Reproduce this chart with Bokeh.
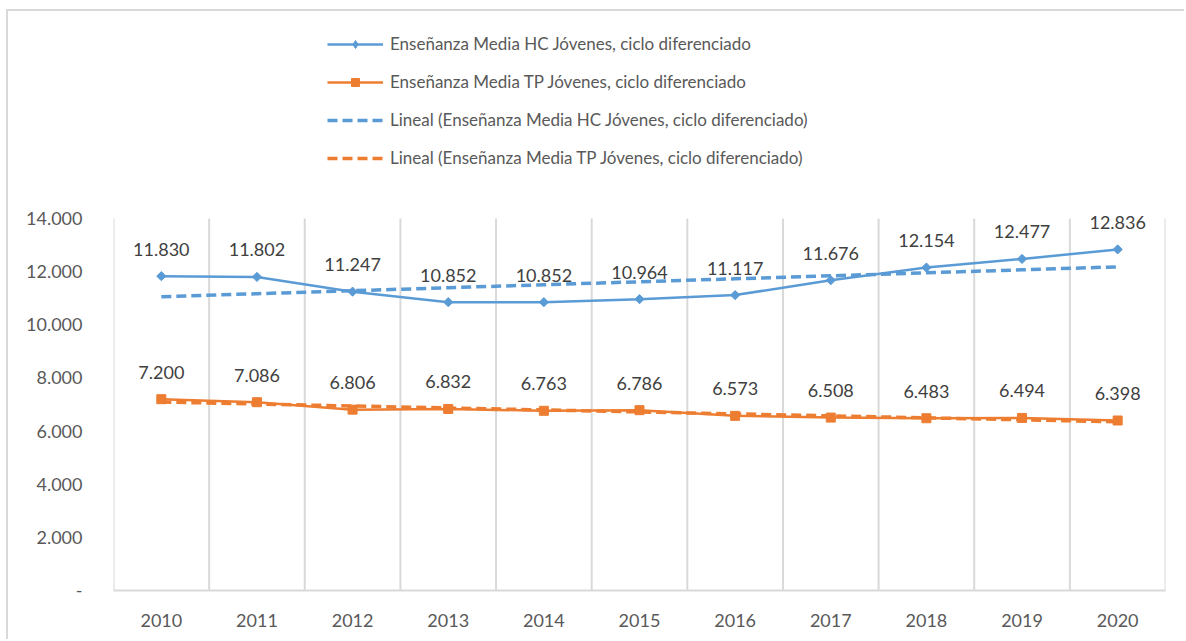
import numpy as np
from bokeh.plotting import figure
from bokeh.models import Legend, LegendItem, FixedTicker, Range1d
from bokeh.core.properties import value
from bokeh.embed import file_html
from bokeh.resources import INLINE

years = [2010, 2011, 2012, 2013, 2014, 2015, 2016, 2017, 2018, 2019, 2020]
hc = [11830, 11802, 11247, 10852, 10852, 10964, 11117, 11676, 12154, 12477, 12836]
tp = [7200, 7086, 6806, 6832, 6763, 6786, 6573, 6508, 6483, 6494, 6398]
y_ticks = [0, 2000, 4000, 6000, 8000, 10000, 12000, 14000]
name_hc = "Enseñanza Media HC Jóvenes, ciclo diferenciado"
name_tp = "Enseñanza Media TP Jóvenes, ciclo diferenciado"
name_hc_trend = "Lineal (Enseñanza Media HC Jóvenes, ciclo diferenciado)"
name_tp_trend = "Lineal (Enseñanza Media TP Jóvenes, ciclo diferenciado)"

BLUE = "#5b9bd5"
ORANGE = "#ed7d31"
GRID = "#d9d9d9"
FONT = "Lato"

def fmt(v):
    if v == 0:
        return "-"
    return f"{v:,}".replace(",", ".")

# linear trends (least squares, like Excel's "Lineal")
xi = np.arange(len(years))
hc_fit = np.polyval(np.polyfit(xi, hc, 1), xi)
tp_fit = np.polyval(np.polyfit(xi, tp, 1), xi)

frame_h = 572
y_end = 14000 * frame_h / 372.0

p = figure(width=1178, height=630, output_backend="svg", toolbar_location=None,
           x_range=Range1d(years[0] - 0.5, years[-1] + 0.5),
           y_range=Range1d(0, y_end),
           styles={"border-top": "2px solid #d9d9d9", "border-left": "2px solid #d9d9d9",
                   "margin-left": "6px", "margin-top": "9px"})
p.min_border = 0
p.min_border_left = 105
p.min_border_right = 21
p.min_border_top = 7
p.min_border_bottom = 51
p.outline_line_color = None
p.background_fill_color = "white"
p.border_fill_color = "white"
p.xgrid.visible = False
p.ygrid.visible = False

# axes
p.yaxis.ticker = FixedTicker(ticks=y_ticks)
p.yaxis.major_label_overrides = {t: fmt(t) for t in y_ticks}
p.yaxis.axis_line_color = None
p.yaxis.major_tick_line_color = None
p.yaxis.minor_tick_line_color = None
p.yaxis.major_label_standoff = 25
p.yaxis.major_label_text_font = FONT
p.yaxis.major_label_text_font_size = "18px"
p.yaxis.major_label_text_color = "#595959"

p.xaxis.ticker = FixedTicker(ticks=years)
p.xaxis.major_label_overrides = {y: str(y) for y in years}
p.xaxis.axis_line_color = GRID
p.xaxis.axis_line_width = 2
p.xaxis.major_tick_line_color = None
p.xaxis.minor_tick_line_color = None
p.xaxis.major_label_standoff = 17
p.xaxis.major_label_text_font = FONT
p.xaxis.major_label_text_font_size = "18px"
p.xaxis.major_label_text_color = "#595959"

# category boundary gridlines
bounds = [y - 0.5 for y in years] + [years[-1] + 0.5]
p.segment(x0=bounds, y0=[0] * len(bounds), x1=bounds, y1=[y_ticks[-1]] * len(bounds),
          line_color=GRID, line_width=2)

# trend lines
r_hc_tr = p.line(years, hc_fit, line_color=BLUE, line_width=3.5, line_dash="10 5")
r_tp_tr = p.line(years, tp_fit, line_color=ORANGE, line_width=3.5, line_dash="10 5")

# series
r_hc_l = p.line(years, hc, line_color=BLUE, line_width=2.5)
r_hc_m = p.scatter(years, hc, marker="square", size=6.5, angle=np.pi / 4,
                   fill_color=BLUE, line_color=BLUE)
# hidden copy used only for the legend swatch (legend ignores marker angle)
r_hc_leg = p.scatter(years, hc, marker="diamond", size=11, fill_color=BLUE,
                     line_color=BLUE, visible=False)
r_tp_l = p.line(years, tp, line_color=ORANGE, line_width=2.5)
r_tp_m = p.scatter(years, tp, marker="square", size=9, fill_color=ORANGE, line_color=ORANGE)

# data labels
for vals in (hc, tp):
    p.text(x=years, y=vals, text=[fmt(v) for v in vals], y_offset=-27,
           text_align="center", text_baseline="middle",
           text_font=value(FONT), text_font_size="18px", text_color="#404040")

legend = Legend(items=[
    LegendItem(label=name_hc, renderers=[r_hc_l, r_hc_leg]),
    LegendItem(label=name_tp, renderers=[r_tp_l, r_tp_m]),
    LegendItem(label=name_hc_trend, renderers=[r_hc_tr]),
    LegendItem(label=name_tp_trend, renderers=[r_tp_tr]),
], location=(214, 422), orientation="vertical")
legend.click_policy = "none"
legend.padding = 0
legend.margin = 0
legend.spacing = 17
legend.glyph_width = 56
legend.glyph_height = 20
legend.label_height = 20
legend.label_standoff = 7
legend.border_line_color = None
legend.background_fill_alpha = 0
legend.label_text_font = FONT
legend.label_text_font_size = "17px"
legend.label_text_color = "#595959"
p.add_layout(legend)

open("out.html", "w").write(file_html(p, INLINE))
